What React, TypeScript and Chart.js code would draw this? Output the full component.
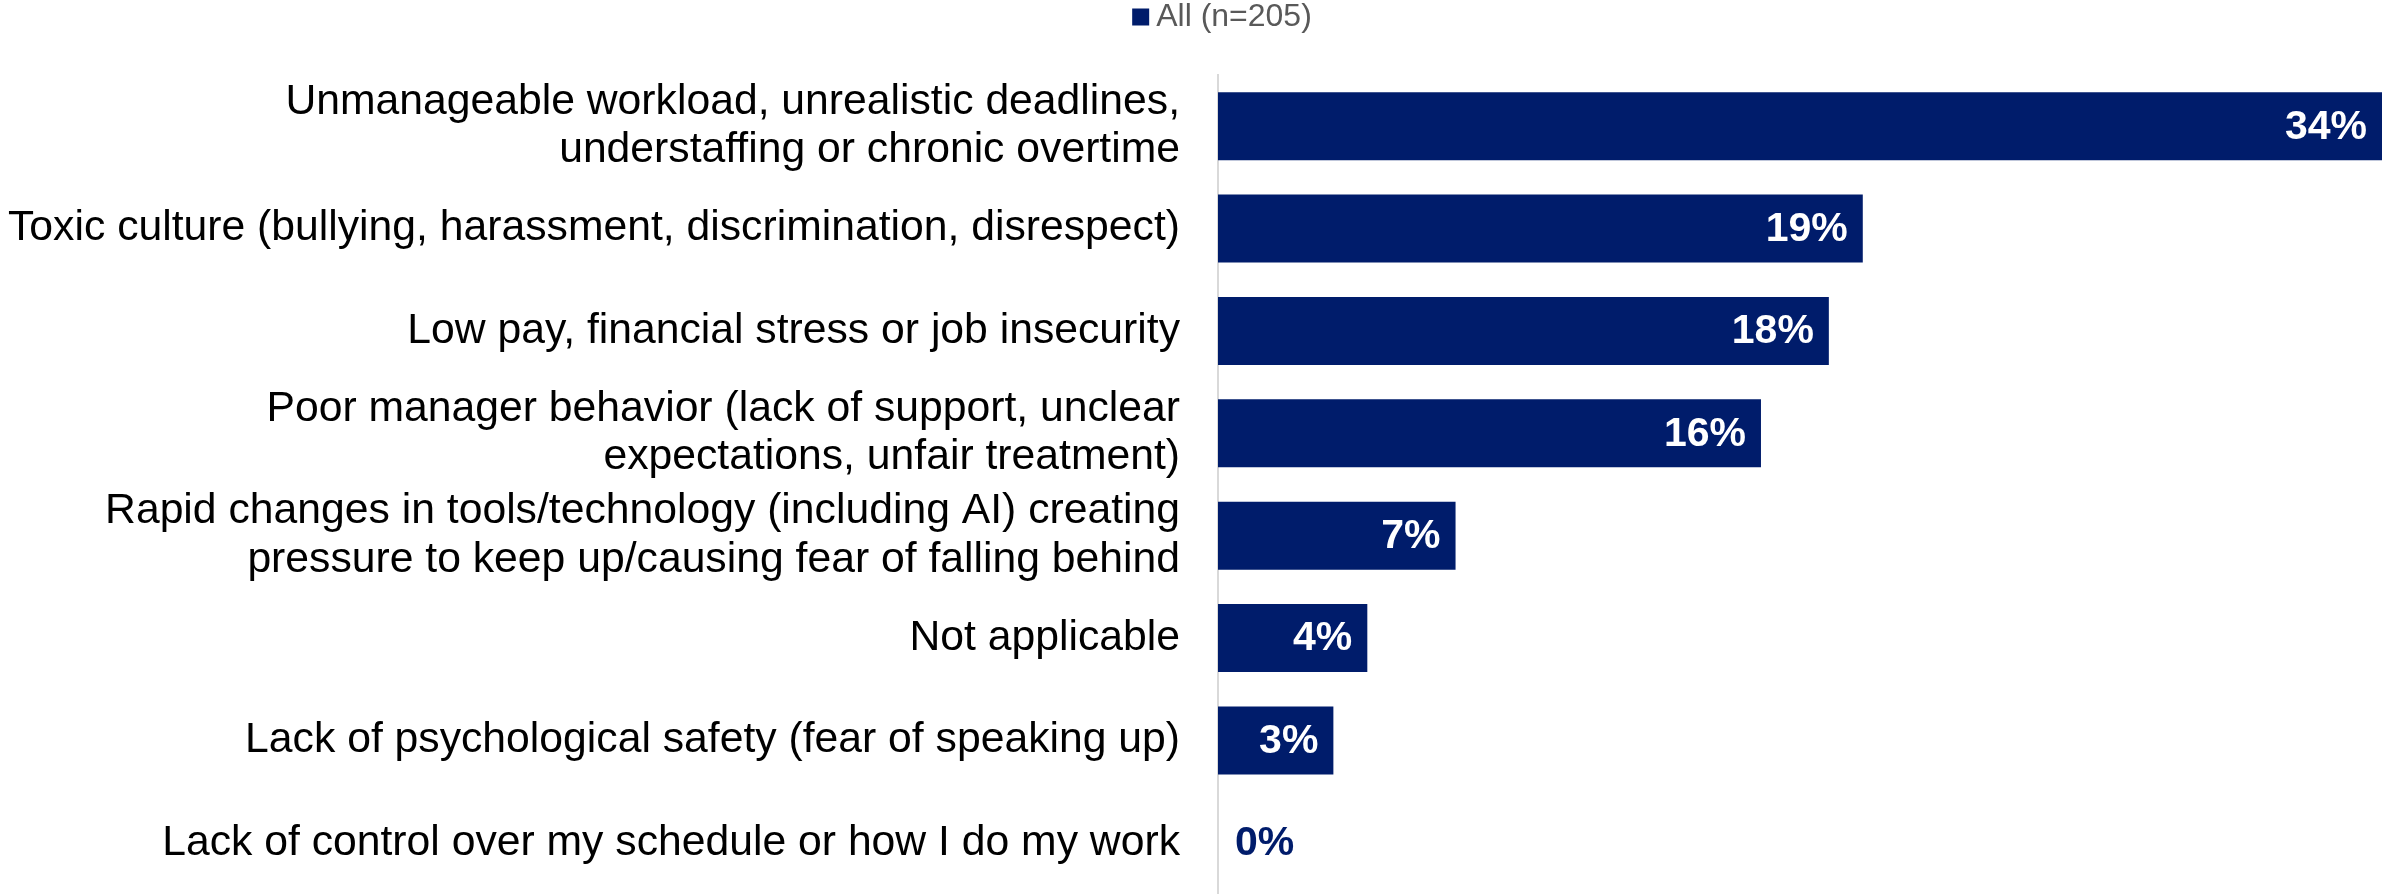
import { useEffect, useRef } from "react";
import { Chart, registerables } from "chart.js";

Chart.register(...registerables);

const categories: (string | string[])[] = [
  ["Unmanageable workload, unrealistic deadlines,", "understaffing or chronic overtime"],
  "Toxic culture (bullying, harassment, discrimination, disrespect)",
  "Low pay, financial stress or job insecurity",
  ["Poor manager behavior (lack of support, unclear", "expectations, unfair treatment)"],
  ["Rapid changes in tools/technology (including AI) creating", "pressure to keep up/causing fear of falling behind"],
  "Not applicable",
  "Lack of psychological safety (fear of speaking up)",
  "Lack of control over my schedule or how I do my work",
];

const values = [34.3, 19, 18, 16, 7, 4.4, 3.4, 0];
const valueLabels = ["34%", "19%", "18%", "16%", "7%", "4%", "3%", "0%"];
const seriesName = "All (n=205)";
const axisMax = 34.3;

const NAVY = "#001C6B";
const FONT = '"Liberation Sans", Arial, Helvetica, sans-serif';

const barLabels = {
  id: "barLabels",
  afterDatasetsDraw(chart: any) {
    const ctx = chart.ctx;
    const meta = chart.getDatasetMeta(0);
    ctx.save();
    ctx.font = `bold 41px ${FONT}`;
    ctx.textBaseline = "middle";
    meta.data.forEach((bar: any, i: number) => {
      const { x, y, base } = bar.getProps(["x", "y", "base"], true);
      if (x - base > 80) {
        ctx.fillStyle = "#FFFFFF";
        ctx.textAlign = "right";
        ctx.fillText(valueLabels[i], x - 15, y + 1);
      } else {
        ctx.fillStyle = NAVY;
        ctx.textAlign = "left";
        ctx.fillText(valueLabels[i], base + 17, y + 1);
      }
    });
    ctx.restore();
  },
};

const topLegend = {
  id: "topLegend",
  afterDraw(chart: any) {
    const ctx = chart.ctx;
    ctx.save();
    ctx.font = `32px ${FONT}`;
    const tw = ctx.measureText(seriesName).width;
    const box = 17;
    const gap = 7;
    const total = box + gap + tw;
    const cx = chart.chartArea.left + 4;
    const x0 = cx - total / 2;
    const cy = 17;
    ctx.fillStyle = NAVY;
    ctx.fillRect(x0, cy - box / 2, box, box);
    ctx.fillStyle = "#595959";
    ctx.textAlign = "left";
    ctx.textBaseline = "middle";
    ctx.fillText(seriesName, x0 + box + gap, cy);
    ctx.restore();
  },
};

export default function App() {
  const ref = useRef<HTMLCanvasElement | null>(null);

  useEffect(() => {
    if (!ref.current) return;
    const chart = new Chart(ref.current, {
      type: "bar",
      data: {
        labels: categories,
        datasets: [
          {
            label: seriesName,
            data: values,
            backgroundColor: NAVY,
            borderWidth: 0,
            barPercentage: 0.664,
            categoryPercentage: 1,
          },
        ],
      },
      plugins: [barLabels, topLegend],
      options: {
        indexAxis: "y",
        animation: false,
        responsive: false,
        maintainAspectRatio: false,
        devicePixelRatio: 1,
        layout: { padding: 0 },
        plugins: {
          legend: { display: false },
          tooltip: { enabled: false },
        },
        scales: {
          x: {
            type: "linear",
            position: "top",
            min: 0,
            max: axisMax,
            ticks: { display: false },
            grid: { display: false },
            border: { display: false },
            afterFit: (s: any) => {
              s.height = 75;
            },
          },
          y: {
            ticks: {
              color: "#000000",
              padding: 38,
              autoSkip: false,
              font: { family: FONT, size: 42.7, lineHeight: 1.14 },
            },
            grid: { display: false, drawTicks: false },
            border: { display: true, color: "#D9D9D9", width: 2 },
            afterFit: (s: any) => {
              s.width = 1218;
              s.paddingTop = 0;
              s.paddingBottom = 0;
            },
          },
        },
      },
    });
    return () => chart.destroy();
  }, []);

  return (
    <div style={{ position: "absolute", left: 0, top: 0, width: 2382, height: 894, background: "#fff" }}>
      <canvas ref={ref} width={2382} height={894} style={{ display: "block", width: 2382, height: 894 }} />
    </div>
  );
}
